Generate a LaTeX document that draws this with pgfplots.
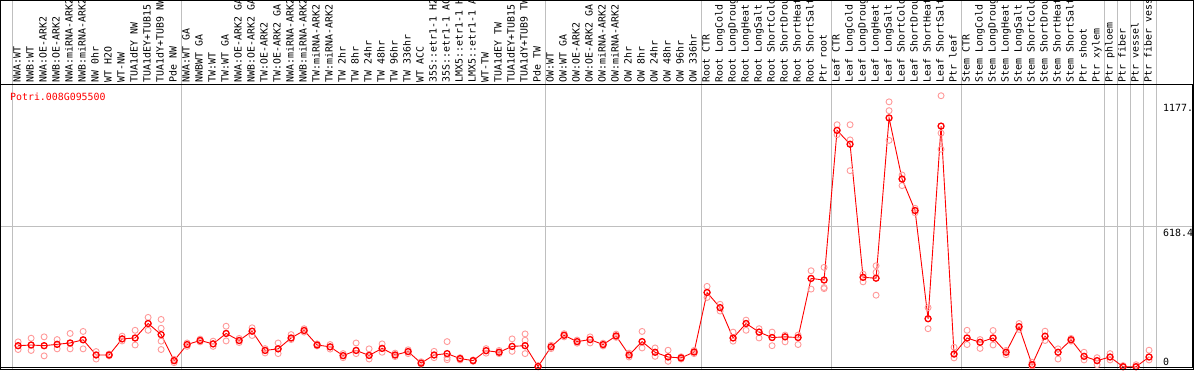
\documentclass[border=0pt]{standalone}
\usepackage{fontspec}
\setmainfont{DejaVu Sans Mono}
\setmonofont{DejaVu Sans Mono}
\usepackage{pgfplots}
\pgfplotsset{compat=1.18}
\usepackage{pgfplotstable}

\pgfplotstableread{
x y
1 93
2 96
3 93
4 99
5 105
6 119
7 52
8 52
9 123
10 127
11 191
12 142
13 27
14 98
15 116
16 101
17 147
18 116
19 157
20 72
21 79
22 127
23 160
24 96
25 88
26 49
27 72
28 50
29 81
30 52
31 67
32 16
33 52
34 58
35 36
36 27
37 71
38 64
39 90
40 93
41 1
42 88
43 139
44 111
45 120
46 98
47 136
48 52
49 111
50 64
51 43
52 39
53 65
54 328
55 261
56 127
57 191
58 153
59 129
60 132
61 129
62 390
63 383
64 1044
65 983
66 395
67 391
68 1099
69 829
70 690
71 212
72 1063
73 56
74 127
75 108
76 127
77 64
78 177
79 9
80 135
81 64
82 119
83 46
84 27
85 43
86 0
87 0
88 43
}\means

\pgfplotstableread{
x y
1 110
1 93
1 76
2 126
2 96
2 72
3 132
3 93
3 48
4 120
4 99
4 79
5 147
5 105
5 79
6 156
6 119
6 79
7 67
7 52
7 34
8 56
8 52
8 48
9 135
9 123
9 114
10 161
10 127
10 96
11 218
11 191
11 161
12 209
12 170
12 113
12 76
13 33
13 27
13 18
14 105
14 98
14 90
15 122
15 115
15 110
16 113
16 101
16 90
17 179
17 147
17 114
18 125
18 115
18 107
19 172
19 157
19 138
20 80
20 72
20 61
21 105
21 79
21 58
22 142
22 127
22 120
23 168
23 160
23 153
24 101
24 96
24 92
25 98
25 87
25 78
26 58
26 49
26 40
27 105
27 72
27 58
28 79
28 50
28 34
29 101
29 81
29 64
30 60
30 52
30 45
31 75
31 67
31 58
32 22
32 16
32 12
33 68
33 52
33 40
34 111
34 40
34 31
35 40
35 35
35 30
36 30
36 27
36 24
37 80
37 71
37 60
38 72
38 64
38 58
39 123
39 90
39 68
40 145
40 117
40 93
40 58
41 5
41 1
41 0
42 95
42 88
42 80
43 146
43 139
43 132
44 118
44 111
44 104
45 132
45 120
45 105
46 104
46 98
46 92
47 144
47 136
47 130
48 60
48 52
48 43
49 156
49 111
49 83
50 83
50 64
50 46
51 73
51 43
51 24
52 44
52 39
52 34
53 72
53 65
53 58
54 355
54 328
54 306
55 276
55 261
55 246
56 153
56 127
56 113
57 206
57 191
57 161
58 168
58 153
58 127
59 153
59 129
59 93
60 140
60 132
60 110
61 140
61 129
61 98
62 424
62 390
62 343
63 439
63 383
63 350
63 345
64 1069
64 1044
64 1025
65 1069
65 1002
65 866
66 409
66 395
66 375
67 446
67 417
67 316
68 1170
68 1131
68 1000
69 847
69 829
69 800
70 700
70 690
70 680
71 261
71 212
71 168
72 1197
72 1032
72 961
73 86
73 56
73 39
74 161
74 127
74 98
75 120
75 108
75 81
76 160
76 127
76 96
77 72
77 64
77 53
78 191
78 177
78 165
79 20
79 9
79 2
80 157
80 135
80 116
81 79
81 64
81 34
82 125
82 119
82 113
83 64
83 46
83 30
84 40
84 27
84 9
85 58
85 43
85 30
86 5
86 0
86 0
87 9
87 2
87 0
88 73
88 43
88 30
}\reps

\begin{document}
\begin{tikzpicture}[x=1pt,y=1pt]
\useasboundingbox (0,0) rectangle (1194,370);
\clip (0,0) rectangle (1194,370);
\foreach \gx in {12.5,181.5,545.5,701.5,831.5,961.5,1104.5,1117.5,1130.5,1143.5,1156.5}
  \draw[black!25, line width=1pt] (\gx,0) -- (\gx,370);
\begin{axis}[
  at={(1,1)}, anchor=south west,
  scale only axis, width=1192pt, height=283pt,
  xmin=-0.3846, xmax=91.3077, ymin=-4.4, ymax=1245.6,
  xtick={1,...,88},
  xticklabels={NWA:WT,NWB:WT,NWA:OE-ARK2,NWB:OE-ARK2,NWA:miRNA-ARK2,NWB:miRNA-ARK2,NW 0hr,WT H2O,WT-NW,TUA1dEY NW,TUA1dEY+TUB15,TUA1dY+TUB9 NW,Pde NW,NWA:WT GA,NWBWT GA,TW:WT,TW:WT GA,NWA:OE-ARK2 GA,NWB:OE-ARK2 GA,TW:OE-ARK2,TW:OE-ARK2 GA,NWA:miRNA-ARK2,NWB:miRNA-ARK2,TW:miRNA-ARK2,TW:miRNA-ARK2,TW 2hr,TW 8hr,TW 24hr,TW 48hr,TW 96hr,TW 336hr,WT ACC,35S::etr1-1 H2,35S::etr1-1 AC,LMX5::etr1-1 H,LMX5::etr1-1 A,WT-TW,TUA1dEY TW,TUA1dEY+TUB15,TUA1dY+TUB9 TW,Pde TW,OW:WT,OW:WT GA,OW:OE-ARK2,OW:OE-ARK2 GA,OW:miRNA-ARK2,OW:miRNA-ARK2,OW 2hr,OW 8hr,OW 24hr,OW 48hr,OW 96hr,OW 336hr,Root CTR,Root LongCold,Root LongDroug,Root LongHeat,Root LongSalt,Root ShortCold,Root ShortDrou,Root ShortHeat,Root ShortSalt,Ptr root,Leaf CTR,Leaf LongCold,Leaf LongDroug,Leaf LongHeat,Leaf LongSalt,Leaf ShortCold,Leaf ShortDrou,Leaf ShortHeat,Leaf ShortSalt,Ptr leaf,Stem CTR,Stem LongCold,Stem LongDroug,Stem LongHeat,Stem LongSalt,Stem ShortCold,Stem ShortDrou,Stem ShortHeat,Stem ShortSalt,Ptr shoot,Ptr xylem,Ptr phloem,Ptr fiber,Ptr vessel,Ptr fiber vess},
  xticklabel pos=right,
  xticklabel style={rotate=90, anchor=west, inner xsep=2.5pt, inner ysep=0pt, text height=7pt, text depth=2pt, font=\fontsize{9.9}{10}\selectfont},
  ytick={618.4}, yticklabels={},
  ymajorgrids, major grid style={black!25, line width=1pt},
  major tick length=0pt,
  axis line style={black, line width=1pt},
]
\addplot[only marks, mark=o, mark size=3pt, color=red!40, line width=0.9pt] table[x=x,y=y] {\reps};
\addplot[color=red, line width=0.9pt, mark=o, mark size=3pt, mark options={line width=1.3pt}] table[x=x,y=y] {\means};
\end{axis}
\draw[black, line width=1pt] (0.5,0.5) rectangle (1193.5,369.5);
\node[anchor=north west, inner sep=0pt, text=red, font=\fontsize{9.9}{10}\selectfont] at (10,277) {Potri.008G095500};
\node[anchor=north west, inner sep=0pt, font=\fontsize{9.9}{10}\selectfont] at (1163,266) {1177.};
\node[anchor=north west, inner sep=0pt, font=\fontsize{9.9}{10}\selectfont] at (1163,141) {618.4};
\node[anchor=south west, inner sep=0pt, font=\fontsize{9.9}{10}\selectfont] at (1163,4) {0};
\end{tikzpicture}
\end{document}
